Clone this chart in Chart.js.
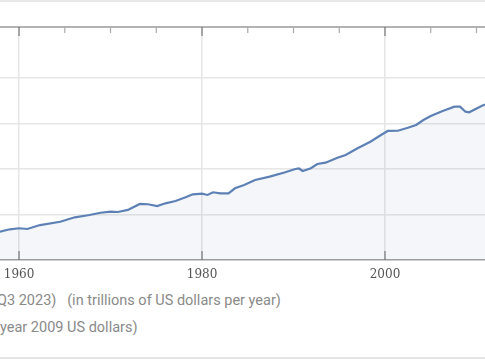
<!DOCTYPE html>
<html>
<head>
<meta charset="utf-8">
<script src="https://cdn.jsdelivr.net/npm/chart.js@4.4.0/dist/chart.umd.min.js"></script>
<style>
  body { margin: 0; background: #fff; width: 485px; height: 360px; overflow: hidden; position: relative; }
  #topRule { position: absolute; left: 0; top: 0; width: 485px; height: 2px; background: #e8e8e8; }
  #bottomRule { position: absolute; left: 0; top: 357px; width: 485px; height: 2px; background: #e4e4e4; }
  #chartBox { position: absolute; left: 0; top: 0; width: 485px; height: 290px; }
  .note { position: absolute; font-family: Roboto, sans-serif; font-size: 14.5px; color: #8a8a8a; white-space: pre; }
</style>
</head>
<body>
<div id="topRule"></div>
<div id="chartBox"><canvas id="gdpChart"></canvas></div>
<div class="note" style="left:-3px; top:292px;">Q3 2023)   (in trillions of US dollars per year)</div>
<div class="note" style="left:0px; top:319px;">year 2009 US dollars)</div>
<div id="bottomRule"></div>

<script>
const years = [1957.0, 1957.9, 1959.0, 1960.0, 1960.9, 1962.3, 1964.5, 1966.1, 1967.7, 1968.9,
  1970.0, 1970.8, 1971.9, 1973.2, 1974.1, 1975.1, 1976.0, 1977.1, 1978.2, 1979.0,
  1980.0, 1980.6, 1981.2, 1982.0, 1982.9, 1983.6, 1984.6, 1985.8, 1987.4, 1989.1,
  1990.2, 1990.6, 1991.0, 1991.9, 1992.6, 1993.5, 1994.8, 1995.7, 1997.0, 1998.4,
  1999.7, 2000.3, 2001.4, 2002.5, 2003.4, 2004.2, 2005.0, 2006.3, 2007.6, 2008.2,
  2008.8, 2009.2, 2010.6, 2011.5];
const gdp = [2.61, 2.74, 2.97, 3.07, 3.00, 3.38, 3.70, 4.13, 4.35, 4.57,
  4.67, 4.64, 4.84, 5.42, 5.39, 5.22, 5.48, 5.71, 6.06, 6.35,
  6.41, 6.29, 6.55, 6.45, 6.45, 6.93, 7.25, 7.74, 8.06, 8.48,
  8.80, 8.85, 8.61, 8.87, 9.28, 9.41, 9.89, 10.15, 10.80, 11.44,
  12.16, 12.48, 12.50, 12.79, 13.06, 13.54, 13.93, 14.41, 14.83, 14.83,
  14.34, 14.28, 14.92, 15.20];

const xTickYears = [1960, 1980, 2000];
const minorStepYears = 5;
const yGridValues = [4.4, 8.8, 13.2, 17.6];
const xMin = 1957.92, xMax = 2010.93;
const yMin = 0, yMax = 22.53;

const points = years.map((yr, i) => ({ x: yr, y: gdp[i] }));

// tick marks inside the frame (top: every 5 years, bottom: only labelled years)
const frameTicks = {
  id: 'frameTicks',
  afterDraw(chart) {
    const ctx = chart.ctx;
    const area = chart.chartArea;
    const xs = chart.scales.x;
    ctx.save();
    ctx.strokeStyle = '#9a9a9a';
    ctx.lineWidth = 1.5;
    ctx.beginPath();
    ctx.moveTo(0, area.top);
    ctx.lineTo(chart.width, area.top);
    ctx.stroke();
    for (let yr = 1950; yr <= 2015; yr += minorStepYears) {
      const px = xs.getPixelForValue(yr);
      if (px < 0 || px > chart.width) continue;
      const major = xTickYears.includes(yr);
      ctx.strokeStyle = major ? '#777' : '#aaa';
      ctx.lineWidth = 1.2;
      ctx.beginPath();
      ctx.moveTo(px, area.top);
      ctx.lineTo(px, area.top + (major ? 9 : 6));
      ctx.stroke();
      if (major) {
        ctx.beginPath();
        ctx.moveTo(px, area.bottom);
        ctx.lineTo(px, area.bottom - 9);
        ctx.stroke();
      }
    }
    ctx.restore();
  }
};

new Chart(document.getElementById('gdpChart'), {
  type: 'line',
  data: {
    datasets: [{
      data: points,
      borderColor: '#5e81b5',
      borderWidth: 2.2,
      backgroundColor: 'rgba(94, 129, 181, 0.07)',
      fill: 'origin',
      pointRadius: 0,
      tension: 0
    }]
  },
  options: {
    responsive: true,
    maintainAspectRatio: false,
    animation: false,
    layout: { padding: { top: 27, left: 0, right: 0, bottom: 0 } },
    plugins: { legend: { display: false }, tooltip: { enabled: false } },
    scales: {
      x: {
        type: 'linear',
        min: xMin,
        max: xMax,
        afterBuildTicks: (scale) => { scale.ticks = xTickYears.map(v => ({ value: v })); },
        afterFit: (scale) => {
          scale.height = 30;
          scale.paddingLeft = 0;
          scale.paddingRight = 0;
        },
        ticks: {
          font: { family: 'DejaVu Serif', size: 12 },
          color: '#555',
          padding: 8,
          maxRotation: 0,
          callback: (v) => String(v)
        },
        grid: { color: '#e6e6e6', lineWidth: 1.5, drawTicks: false },
        border: { color: '#a0a0a0', width: 1.5 }
      },
      y: {
        min: yMin,
        max: yMax,
        afterBuildTicks: (scale) => { scale.ticks = yGridValues.map(v => ({ value: v })); },
        afterFit: (scale) => {
          scale.width = 0;
          scale.paddingTop = 0;
          scale.paddingBottom = 0;
        },
        ticks: { display: false },
        grid: { color: '#e6e6e6', lineWidth: 1.5, drawTicks: false },
        border: { display: false }
      }
    }
  },
  plugins: [frameTicks]
});
</script>
</body>
</html>
